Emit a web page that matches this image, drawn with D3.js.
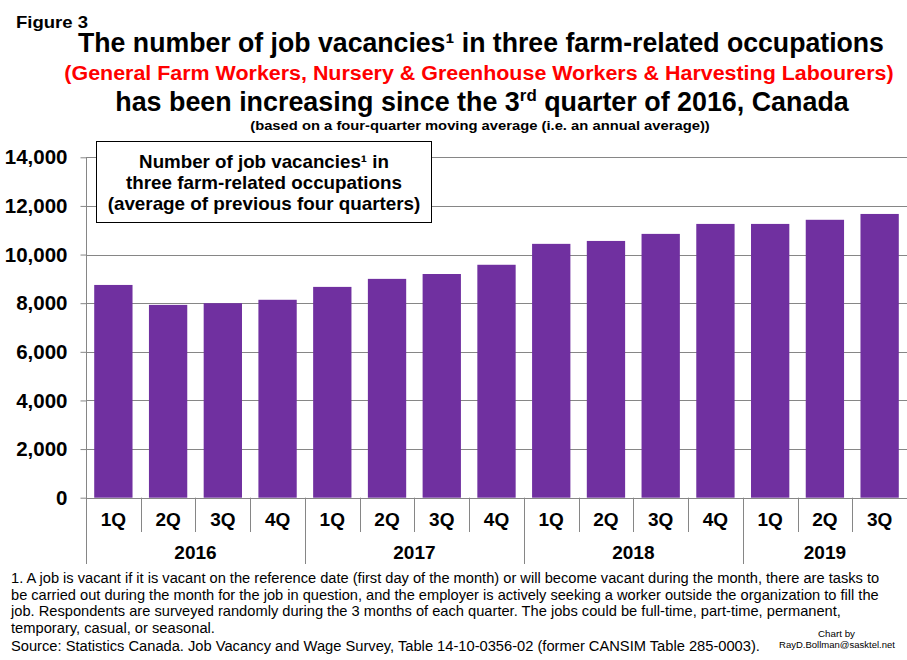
<!DOCTYPE html>
<html>
<head>
<meta charset="utf-8">
<script src="https://cdn.jsdelivr.net/npm/d3@7"></script>
<style>
  body { margin: 0; background: #fff; }
  svg { display: block; font-family: Arial, "Liberation Sans", sans-serif; }
</style>
</head>
<body>
<svg id="chart" width="907" height="660"></svg>
<script>
// quarterly job vacancies, four-quarter moving average
var years = ["2016", "2017", "2018", "2019"];
var quarters = ["1Q", "2Q", "3Q", "4Q", "1Q", "2Q", "3Q", "4Q", "1Q", "2Q", "3Q", "4Q", "1Q", "2Q", "3Q"];
var quarterYear = [0, 0, 0, 0, 1, 1, 1, 1, 2, 2, 2, 2, 3, 3, 3];
var vacancies = [8750, 7930, 8000, 8140, 8670, 9000, 9200, 9580, 10440, 10560, 10850, 11260, 11260, 11430, 11670];
var yTicks = [0, 2000, 4000, 6000, 8000, 10000, 12000, 14000];

var svg = d3.select("#chart"),
    width = +svg.attr("width"),
    height = +svg.attr("height");

var plotLeft = 86, plotRight = 907, plotTop = 157.3, plotBottom = 497.7;
var gridColor = "#868686";

var x = d3.scaleBand()
    .domain(d3.range(vacancies.length))
    .range([plotLeft, plotRight])
    .paddingInner(0.3)
    .paddingOuter(0.15);

var y = d3.scaleLinear()
    .domain([0, 14000])
    .range([plotBottom, plotTop]);

// squeeze/stretch a text line so it spans a given width (Excel fonts render condensed)
function fitWidth(sel, cx, baseline, target, anchor) {
  sel.attr("text-anchor", anchor || "middle");
  var w = sel.node().getComputedTextLength();
  sel.attr("transform", "translate(" + cx + "," + baseline + ") scale(" + (target / w) + ",1)");
}

// gridlines
svg.append("g")
  .selectAll("line")
  .data(yTicks)
  .enter().append("line")
    .attr("x1", plotLeft)
    .attr("x2", plotRight)
    .attr("y1", function(d) { return Math.round(y(d)) + 0.5; })
    .attr("y2", function(d) { return Math.round(y(d)) + 0.5; })
    .attr("stroke", gridColor)
    .attr("stroke-width", 1);

// bars
svg.append("g")
  .selectAll("rect")
  .data(vacancies)
  .enter().append("rect")
    .attr("x", function(d, i) { return x(i); })
    .attr("width", x.bandwidth())
    .attr("y", function(d) { return y(d); })
    .attr("height", function(d) { return y(0) - y(d); })
    .attr("fill", "#7030A0");

// y axis
var yAxis = svg.append("g")
    .attr("transform", "translate(" + (plotLeft + 0.5) + ",0)")
    .call(d3.axisLeft(y).tickValues(yTicks).tickFormat(d3.format(",")).tickSize(6).tickPadding(13));
yAxis.select(".domain").remove();
yAxis.selectAll(".tick line").attr("stroke", gridColor);
yAxis.selectAll(".tick text")
    .attr("fill", "#000")
    .style("font", "bold 20.5px Arial, 'Liberation Sans', sans-serif");

// axis line
svg.append("line")
    .attr("x1", plotLeft + 0.5).attr("x2", plotLeft + 0.5)
    .attr("y1", plotTop).attr("y2", 564)
    .attr("stroke", gridColor);

// category separators
var step = x.step();
svg.append("g")
  .selectAll("line")
  .data(d3.range(1, vacancies.length))
  .enter().append("line")
    .attr("x1", function(i) { return Math.round(plotLeft + i * step) + 0.5; })
    .attr("x2", function(i) { return Math.round(plotLeft + i * step) + 0.5; })
    .attr("y1", plotBottom)
    .attr("y2", function(i) { return quarterYear[i] !== quarterYear[i - 1] ? 564 : 532; })
    .attr("stroke", gridColor);

// quarter labels
svg.append("g")
  .selectAll("text")
  .data(quarters)
  .enter().append("text")
    .attr("x", function(d, i) { return x(i) + x.bandwidth() / 2; })
    .attr("y", 526)
    .attr("text-anchor", "middle")
    .style("font", "bold 19px Arial, 'Liberation Sans', sans-serif")
    .text(function(d) { return d; });

// year labels
svg.append("g")
  .selectAll("text")
  .data(years)
  .enter().append("text")
    .attr("x", function(d, k) {
      var idx = d3.range(quarters.length).filter(function(i) { return quarterYear[i] === k; });
      return (plotLeft + idx[0] * step + plotLeft + (idx[idx.length - 1] + 1) * step) / 2;
    })
    .attr("y", 559)
    .attr("text-anchor", "middle")
    .style("font", "bold 19px Arial, 'Liberation Sans', sans-serif")
    .text(function(d) { return d; });

// text box in the plot
svg.append("rect")
    .attr("x", 96.5).attr("y", 141.5)
    .attr("width", 335).attr("height", 81)
    .attr("fill", "#fff")
    .attr("stroke", "#000")
    .attr("stroke-width", 1);

var boxLines = ["Number of job vacancies\u00b9 in", "three farm-related occupations", "(average of previous four quarters)"];
var boxWidths = [250, 276, 313];
svg.append("g")
  .selectAll("text")
  .data(boxLines)
  .enter().append("text")
    .style("font", "bold 18px Arial, 'Liberation Sans', sans-serif")
    .text(function(d) { return d; })
    .each(function(d, i) {
      fitWidth(d3.select(this), 264, 168 + i * 21, boxWidths[i]);
    });

// titles
var fig = svg.append("text")
    .style("font", "bold 17px Arial, sans-serif")
    .text("Figure 3");
fitWidth(fig, 16, 28, 72, "start");

var t1 = svg.append("text")
    .style("font", "bold 27px Arial, sans-serif")
    .text("The number of job vacancies\u00b9 in three farm-related occupations");
fitWidth(t1, 481, 52, 806);

var t2 = svg.append("text")
    .attr("fill", "#FF0000")
    .style("font", "bold 20px Arial, sans-serif")
    .text("(General Farm Workers, Nursery & Greenhouse Workers & Harvesting Labourers)");
fitWidth(t2, 479, 80, 830);

var t3 = svg.append("text")
    .style("font", "bold 27px Arial, sans-serif");
t3.append("tspan").text("has been increasing since the 3");
t3.append("tspan").attr("dy", -10).style("font-size", "17px").text("rd");
t3.append("tspan").attr("dy", 10).text(" quarter of 2016, Canada");
fitWidth(t3, 482, 111, 734);

var t4 = svg.append("text")
    .style("font", "bold 13px Arial, sans-serif")
    .text("(based on a four-quarter moving average (i.e. an annual average))");
fitWidth(t4, 480, 130, 460);

// footnote
var notes = [
  "1. A job is vacant if it is vacant on the reference date (first day of the month) or will become vacant during the month, there are tasks to",
  "be carried out during the month for the job in question, and the employer is actively seeking a worker outside the organization to fill the",
  "job. Respondents are surveyed randomly during the 3 months of each quarter. The jobs could be full-time, part-time, permanent,",
  "temporary, casual, or seasonal.",
  "Source: Statistics Canada. Job Vacancy and Wage Survey, Table 14-10-0356-02  (former CANSIM  Table 285-0003)."
];
var noteWidths = [869, 869, 830, 204, 750];
svg.append("g")
  .selectAll("text")
  .data(notes)
  .enter().append("text")
    .style("font", "15px Arial, sans-serif")
    .text(function(d) { return d; })
    .each(function(d, i) {
      fitWidth(d3.select(this), 11, 583 + i * 16.7 + (i === 4 ? 1 : 0), noteWidths[i], "start");
    });

var c1 = svg.append("text")
    .style("font", "9px Arial, sans-serif")
    .text("Chart by");
fitWidth(c1, 836.5, 637, 37);
var c2 = svg.append("text")
    .style("font", "9px Arial, sans-serif")
    .text("RayD.Bollman@sasktel.net");
fitWidth(c2, 837, 648, 116);
</script>
</body>
</html>
